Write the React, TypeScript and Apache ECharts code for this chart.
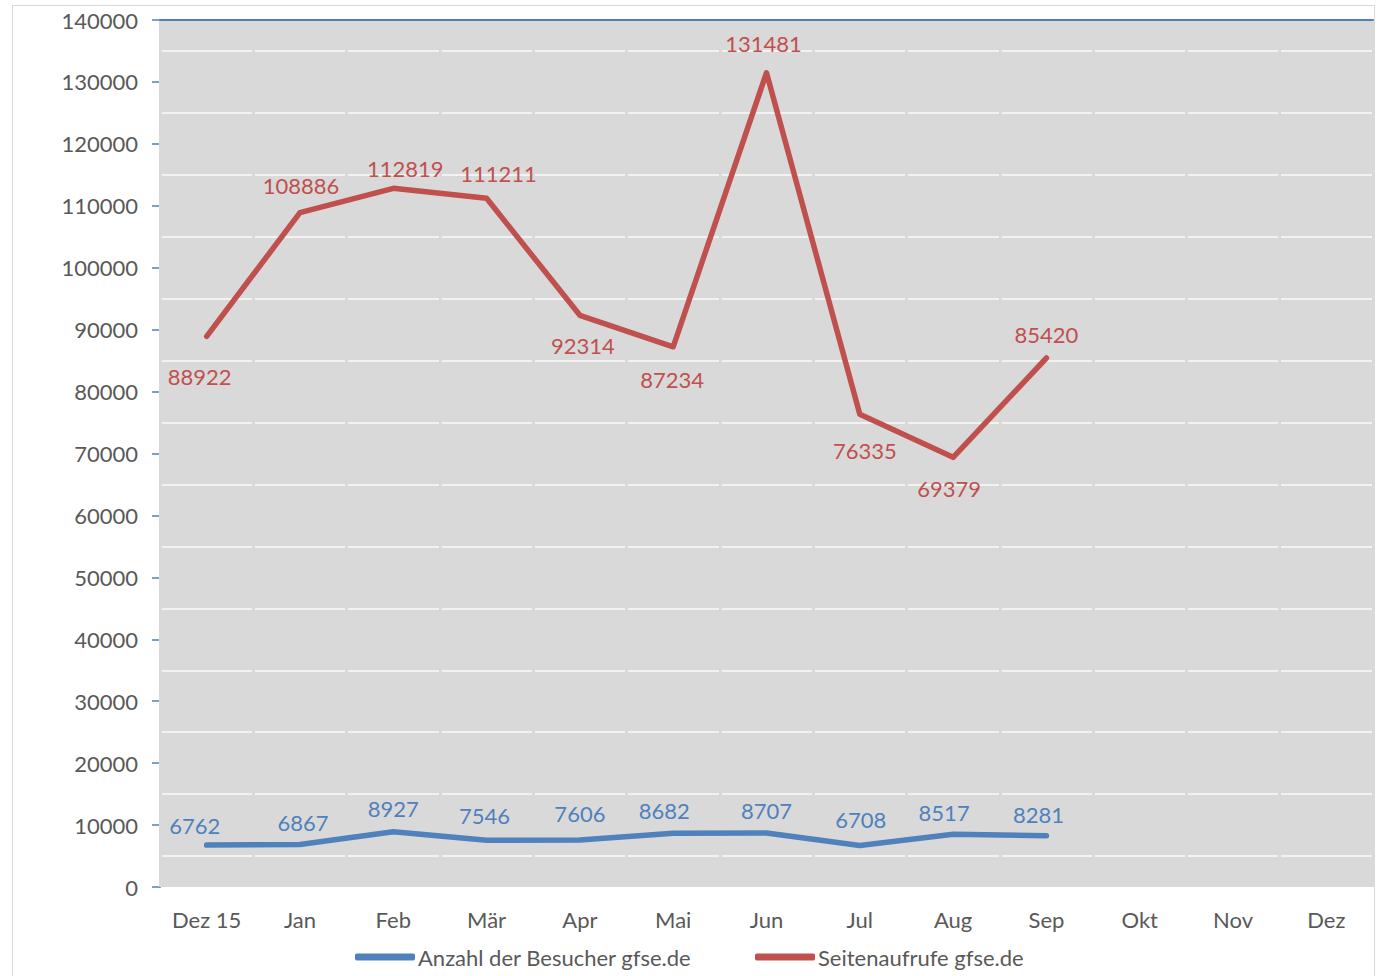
import React, { useEffect, useRef } from "react";
import * as echarts from "echarts";

const categories = ["Dez 15", "Jan", "Feb", "Mär", "Apr", "Mai", "Jun", "Jul", "Aug", "Sep", "Okt", "Nov", "Dez"];
const besucher = [6762, 6867, 8927, 7546, 7606, 8682, 8707, 6708, 8517, 8281, null, null, null];
const seitenaufrufe = [88922, 108886, 112819, 111211, 92314, 87234, 131481, 76335, 69379, 85420, null, null, null];

const redLabelPos = ["bottom", "top", "top", "top", "bottom", "bottom", "top", "bottom", "bottom", "top"];
const redLabelOffset = [[-7, 24], [1, -11], [12, -4], [12, -9], [3, 14], [-1, 17], [-3, -13], [5, 20], [-4, 15], [0, -7]];
const blueLabelOffset = [[-12, -4], [3, -6], [0, -7], [-2, -9], [0, -10], [-9, -7], [0, -7], [1, -10], [-9, -6], [-8, -5]];

const FONT = "Lato, 'Open Sans', sans-serif";
const BLUE = "#4f81bd";
const RED = "#c0504d";
const GREY_TEXT = "#595959";
const FS = 22;

export default function App() {
  const ref = useRef<HTMLDivElement>(null);
  useEffect(() => {
    if (!ref.current) return;
    const chart = echarts.init(ref.current, undefined, { renderer: "svg" });
    const redData = seitenaufrufe.map((v, i) =>
      v == null
        ? null
        : {
            value: v,
            label: { position: redLabelPos[i], offset: redLabelOffset[i] },
          }
    );
    const blueData = besucher.map((v, i) =>
      v == null ? null : { value: v, label: { position: "top", offset: blueLabelOffset[i] } }
    );
    const legendCommon = {
      top: 946,
      padding: 0,
      itemWidth: 60,
      itemHeight: 7,
      icon: "roundRect",
      textStyle: { color: GREY_TEXT, fontSize: FS, fontFamily: FONT, padding: [0, 0, 0, -2] },
    };
    chart.setOption({
      animation: false,
      backgroundColor: "#ffffff",
      textStyle: { fontFamily: FONT },
      graphic: [
        {
          type: "rect",
          shape: { x: 12.5, y: 5.5, width: 1362, height: 1000 },
          style: { fill: "none", stroke: "#d9d9d9", lineWidth: 1 },
          silent: true,
        },
      ],
      grid: { left: 160, right: 6, top: 20, bottom: 89, show: true, backgroundColor: "#d9d9d9", borderWidth: 0 },
      legend: [
        { ...legendCommon, left: 355, data: ["Anzahl der Besucher gfse.de"] },
        { ...legendCommon, left: 755, data: ["Seitenaufrufe gfse.de"] },
      ],
      xAxis: [
        {
          type: "category",
          data: categories,
          boundaryGap: true,
          z: 2,
          axisLine: { show: false },
          axisTick: { show: false },
          axisLabel: { color: GREY_TEXT, fontSize: FS, margin: 21, fontFamily: FONT },
          splitLine: { show: true, lineStyle: { color: "#d9d9d9", width: 3 } },
        },
        {
          type: "category",
          data: categories,
          position: "top",
          z: 2,
          axisLine: { show: true, lineStyle: { color: BLUE, width: 2 } },
          axisTick: { show: false },
          axisLabel: { show: false },
          splitLine: { show: false },
        },
      ],
      yAxis: {
        type: "value",
        min: 0,
        max: 140000,
        interval: 10000,
        z: 1,
        axisLine: { show: true, lineStyle: { color: BLUE, width: 2 } },
        axisTick: { show: true, length: 8, lineStyle: { color: BLUE, width: 1.5 } },
        axisLabel: {
          color: GREY_TEXT,
          fontSize: FS,
          margin: 22,
          fontFamily: FONT,
          formatter: (v: number) => String(v),
        },
        splitLine: { show: false },
        minorTick: { show: false, splitNumber: 2 },
        minorSplitLine: { show: true, lineStyle: { color: "#f2f2f2", width: 2 } },
      },
      series: [
        {
          name: "Anzahl der Besucher gfse.de",
          type: "line",
          data: blueData,
          z: 5,
          symbol: "circle",
          symbolSize: 0.1,
          showSymbol: true,
          itemStyle: { color: BLUE },
          lineStyle: { color: BLUE, width: 5.5, cap: "round", join: "round" },
          label: { show: true, color: BLUE, fontSize: FS, fontFamily: FONT },
        },
        {
          name: "Seitenaufrufe gfse.de",
          type: "line",
          data: redData,
          z: 5,
          symbol: "circle",
          symbolSize: 0.1,
          showSymbol: true,
          itemStyle: { color: RED },
          lineStyle: { color: RED, width: 5.5, cap: "round", join: "round" },
          label: { show: true, color: RED, fontSize: FS, fontFamily: FONT },
        },
      ],
    });
    return () => chart.dispose();
  }, []);
  return <div ref={ref} style={{ position: "fixed", left: 0, top: 0, width: 1379, height: 976 }} />;
}
